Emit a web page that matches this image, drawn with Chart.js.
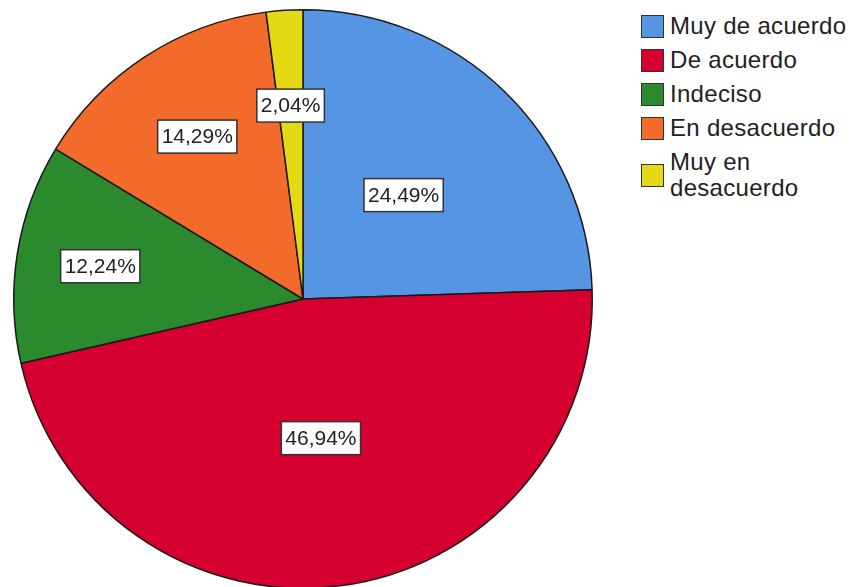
<!DOCTYPE html>
<html>
<head>
<meta charset="utf-8">
<script src="https://cdn.jsdelivr.net/npm/chart.js@4/dist/chart.umd.min.js"></script>
<style>
  html, body { margin: 0; padding: 0; background: #fff; overflow: hidden; }
  #wrap { position: relative; width: 853px; height: 587px; }
  #pie { position: absolute; left: 0; top: 0; }
  #legend { position: absolute; left: 641px; top: 13px; font-family: 'Liberation Sans', Arial, sans-serif; font-size: 24px; letter-spacing: 0.3px; color: #222; }
  .item { display: flex; align-items: center; margin-bottom: 8px; line-height: 26px; }
  .box { width: 21px; height: 21px; border: 1.5px solid #333; margin-right: 6px; flex: none; }
</style>
</head>
<body>
<div id="wrap">
  <canvas id="pie" width="596" height="600" style="width:596px;height:600px"></canvas>
  <div id="legend"></div>
</div>
<script>
const categories = ['Muy de acuerdo', 'De acuerdo', 'Indeciso', 'En desacuerdo', 'Muy en desacuerdo'];
const percents = [24.49, 46.94, 12.24, 14.29, 2.04];
const colors = ['#5595e4', '#d5002f', '#2b8a2e', '#f26b2b', '#e5d815'];

// legend text lines (last one wraps like the original)
const legendLines = [['Muy de acuerdo'], ['De acuerdo'], ['Indeciso'], ['En desacuerdo'], ['Muy en', 'desacuerdo']];

// boxed percentage labels, placed at a fraction of the radius along each slice's mid angle
const boxLabels = {
    id: 'boxLabels',
    afterDatasetsDraw(chart, args, opts) {
        const ctx = chart.ctx;
        const meta = chart.getDatasetMeta(0);
        ctx.save();
        ctx.font = '21px "Liberation Sans", Arial, sans-serif';
        ctx.textAlign = 'center';
        ctx.textBaseline = 'middle';
        meta.data.forEach((arc, i) => {
            const mid = (arc.startAngle + arc.endAngle) / 2;
            const r = arc.outerRadius * opts.radius[i];
            const x = arc.x + Math.cos(mid) * r;
            const y = arc.y + Math.sin(mid) * r;
            const txt = percents[i].toFixed(2).replace('.', ',') + '%';
            const w = ctx.measureText(txt).width + 8;
            const h = 33;
            ctx.fillStyle = '#fff';
            ctx.fillRect(x - w / 2, y - h / 2, w, h);
            ctx.strokeStyle = '#333';
            ctx.lineWidth = 1.5;
            ctx.strokeRect(x - w / 2, y - h / 2, w, h);
            ctx.fillStyle = '#222';
            ctx.fillText(txt, x, y + 1);
        });
        ctx.restore();
    }
};

new Chart(document.getElementById('pie').getContext('2d'), {
    type: 'pie',
    data: {
        labels: categories,
        datasets: [{
            data: percents,
            backgroundColor: colors,
            borderColor: '#1a1a1a',
            borderWidth: 1.5,
            hoverOffset: 0,
            offset: 0
        }]
    },
    options: {
        responsive: false,
        animation: false,
        layout: { padding: { left: 13, top: 9, right: 3, bottom: 11 } },
        plugins: {
            legend: { display: false },
            tooltip: { enabled: false },
            boxLabels: { radius: [0.5, 0.485, 0.71, 0.67, 0.67] }
        }
    },
    plugins: [boxLabels]
});

const legend = document.getElementById('legend');
categories.forEach((c, i) => {
    const item = document.createElement('div');
    item.className = 'item';
    const box = document.createElement('div');
    box.className = 'box';
    box.style.background = colors[i];
    const txt = document.createElement('div');
    txt.innerHTML = legendLines[i].join('<br>');
    item.appendChild(box);
    item.appendChild(txt);
    legend.appendChild(item);
});
</script>
</body>
</html>
